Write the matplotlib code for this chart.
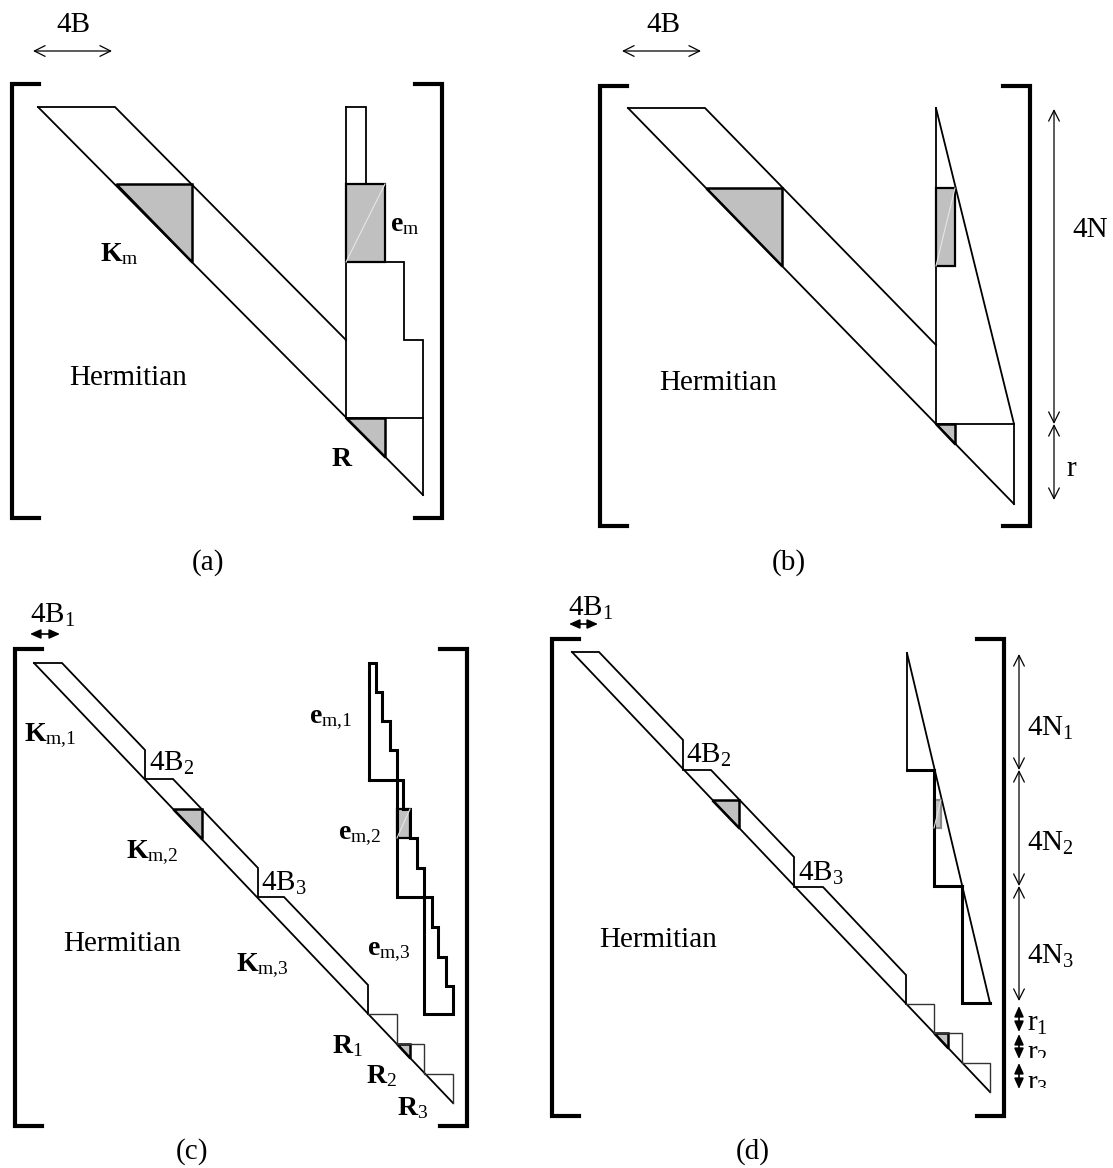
import matplotlib
matplotlib.use('Agg')
import matplotlib.pyplot as plt
from matplotlib.patches import Polygon, Rectangle

plt.rcParams['font.family'] = ['Liberation Serif', 'DejaVu Serif']
plt.rcParams['mathtext.fontset'] = 'custom'
plt.rcParams['mathtext.rm'] = 'Liberation Serif'
plt.rcParams['mathtext.bf'] = 'Liberation Serif:bold'
plt.rcParams['mathtext.it'] = 'Liberation Serif:italic'

W, H = 1113, 1168
GRAY = '#c0c0c0'

# ---------------- geometry of the schematic (pixel space) ----------------
# brackets: (left x, right x, top y, bottom y)
brackets = [(12, 442, 84, 518), (600, 1030, 86, 526),
            (15, 467, 649, 1126), (552, 1004, 639, 1116)]
bracket_tick = 27

# thin outline polylines (band edges etc.)
band_lines = [
    # (a)
    [(38, 107), (423, 495)],
    [(38, 107), (115, 107), (346, 340)],
    [(346, 107), (366, 107), (366, 184)],
    [(346, 107), (346, 418)],
    [(346, 262), (404, 262), (404, 340), (423, 340), (423, 495)],
    [(346, 418), (423, 418)],
    # (b)
    [(628, 108), (1014, 504)],
    [(628, 108), (705, 108), (936, 345)],
    [(936, 108), (936, 424)],
    [(936, 108), (1014, 424), (1014, 504)],
    [(936, 424), (1014, 424)],
    # (c)
    [(34, 663), (453, 1103)],
    [(34, 663), (62, 663), (145, 750), (145, 779), (173, 779), (258, 868),
     (258, 897), (284, 897), (368, 985), (368, 1014)],
    # (d)
    [(572, 652), (990, 1092)],
    [(572, 652), (599, 652), (683, 740), (683, 770), (711, 770), (794, 857),
     (794, 887), (823, 887), (906, 975), (906, 1004)],
    [(907, 653), (907, 770)],
    [(907, 653), (990, 1003)],
]

# light staircase of the R blocks
r_steps = [
    [(368, 1014), (397, 1014), (397, 1044), (424, 1044), (424, 1074), (453, 1074), (453, 1103)],
    [(906, 1004), (934, 1004), (934, 1033), (962, 1033), (962, 1063), (990, 1063), (990, 1092)],
]

# thick outlines (vector blocks)
thick_lines = [
    # (c) e_m,1 / e_m,2 / e_m,3
    [(369, 780), (369, 663), (376, 663), (376, 692), (382, 692), (382, 721),
     (390, 721), (390, 750), (397, 750), (397, 780), (369, 780)],
    [(397, 780), (403, 780), (403, 809), (410, 809), (410, 838), (417, 838),
     (417, 868), (424, 868), (424, 897), (397, 897), (397, 780)],
    [(424, 897), (432, 897), (432, 927), (438, 927), (438, 957), (446, 957),
     (446, 986), (453, 986), (453, 1014), (424, 1014), (424, 897)],
    # (d) blocks
    [(907, 770), (934, 770)],
    [(934, 770), (934, 886), (962, 886)],
    [(962, 886), (962, 1003), (990, 1003)],
]

# gray shaded triangles (K_m and R parts)
gray_triangles = [
    [(116, 184), (192, 184), (192, 262)],
    [(346, 418), (385, 418), (385, 457)],
    [(706, 188), (782, 188), (782, 266)],
    [(936, 424), (955, 424), (955, 444)],
    [(173, 809), (202, 809), (202, 839)],
    [(397, 1044), (410, 1044), (410, 1058)],
    [(712, 800), (739, 800), (739, 828)],
    [(934, 1033), (948, 1033), (948, 1048)],
]
# gray rectangles (x0, y0, x1, y1, edgecolor)
gray_rects = [
    (346, 184, 385, 262, 'black'),
    (936, 188, 955, 266, 'black'),
    (397, 809, 410, 838, 'black'),
    (934, 800, 941, 828, '#8a8a8a'),
]

# dimension arrows
open_arrows = [((33, 51), (112, 51)), ((622, 51), (701, 51)),
               ((1054, 109), (1054, 424)), ((1054, 424), (1054, 500)),
               ((1019, 654), (1019, 770)), ((1019, 770), (1019, 886)),
               ((1019, 886), (1019, 1001))]
small_arrows = [((30, 634), (60, 634)), ((569, 624), (598, 624)),
                ((1019, 1006), (1019, 1032)), ((1019, 1034), (1019, 1059)),
                ((1019, 1063), (1019, 1089))]

# labels: (x, y, text, ha, fontsize)
labels = [
    (73, 25, '4B', 'center', 21),
    (663, 25, '4B', 'center', 21),
    (128, 378, 'Hermitian', 'center', 21),
    (718, 383, 'Hermitian', 'center', 21),
    (122, 944, 'Hermitian', 'center', 21),
    (658, 940, 'Hermitian', 'center', 21),
    (100, 254, r'$\mathbf{K}_{\mathrm{m}}$', 'left', 20),
    (390, 225, r'$\mathbf{e}_{\mathrm{m}}$', 'left', 20),
    (342, 460, r'$\mathbf{R}$', 'center', 20),
    (1072, 230, '4N', 'left', 21),
    (1066, 469, 'r', 'left', 21),
    (208, 563, '(a)', 'center', 21),
    (789, 563, '(b)', 'center', 21),
    (192, 1152, '(c)', 'center', 21),
    (753, 1152, '(d)', 'center', 21),
    (30, 615, r'4B$_{\mathrm{1}}$', 'left', 21),
    (568, 608, r'4B$_{\mathrm{1}}$', 'left', 21),
    (24, 736, r'$\mathbf{K}_{\mathrm{m{,}1}}$', 'left', 20),
    (149, 763, r'4B$_{\mathrm{2}}$', 'left', 21),
    (126, 853, r'$\mathbf{K}_{\mathrm{m{,}2}}$', 'left', 20),
    (261, 883, r'4B$_{\mathrm{3}}$', 'left', 21),
    (236, 966, r'$\mathbf{K}_{\mathrm{m{,}3}}$', 'left', 20),
    (309, 720, r'$\mathbf{e}_{\mathrm{m{,}1}}$', 'left', 20),
    (338, 835, r'$\mathbf{e}_{\mathrm{m{,}2}}$', 'left', 20),
    (367, 951, r'$\mathbf{e}_{\mathrm{m{,}3}}$', 'left', 20),
    (332, 1046, r'$\mathbf{R}_{\mathrm{1}}$', 'left', 20),
    (366, 1076, r'$\mathbf{R}_{\mathrm{2}}$', 'left', 20),
    (397, 1108, r'$\mathbf{R}_{\mathrm{3}}$', 'left', 20),
    (686, 755, r'4B$_{\mathrm{2}}$', 'left', 21),
    (798, 873, r'4B$_{\mathrm{3}}$', 'left', 21),
    (1027, 728, r'4N$_{\mathrm{1}}$', 'left', 21),
    (1027, 843, r'4N$_{\mathrm{2}}$', 'left', 21),
    (1027, 956, r'4N$_{\mathrm{3}}$', 'left', 21),
]
# clipped labels: (x, y, text, clip box x0, y0, x1, y1)
clipped_labels = [
    (1027, 1024, r'r$_{\mathrm{1}}$', 1020, 1005, 1046, 1036),
    (1027, 1054, r'r$_{\mathrm{2}}$', 1020, 1034, 1046, 1058),
    (1027, 1084, r'r$_{\mathrm{3}}$', 1020, 1062, 1046, 1088),
]

# ---------------- drawing ----------------
fig = plt.figure(figsize=(W / 100, H / 100), dpi=100)
ax = fig.add_axes([0, 0, 1, 1])
ax.set_xlim(0, W)
ax.set_ylim(H, 0)
ax.axis('off')


def polyline(pts, lw, color='black'):
    xs = [p[0] for p in pts]
    ys = [p[1] for p in pts]
    ax.plot(xs, ys, color=color, lw=lw, solid_joinstyle='miter',
            solid_capstyle='projecting')


for (xl, xr, yt, yb) in brackets:
    polyline([(xl + bracket_tick, yt), (xl, yt), (xl, yb), (xl + bracket_tick, yb)], 3.0)
    polyline([(xr - bracket_tick, yt), (xr, yt), (xr, yb), (xr - bracket_tick, yb)], 3.0)

for (x0, y0, x1, y1, ec) in gray_rects:
    ax.add_patch(Rectangle((x0, y0), x1 - x0, y1 - y0, facecolor=GRAY,
                           edgecolor=ec, lw=1.6, zorder=2))
    ax.plot([x0, x1], [y1, y0], color='#e6e6e6', lw=0.8, zorder=2.1)

for tri in gray_triangles:
    ax.add_patch(Polygon(tri, closed=True, facecolor=GRAY, edgecolor='black',
                         lw=1.8, zorder=2, joinstyle='miter'))

for pl in band_lines:
    polyline(pl, 1.3)
for pl in r_steps:
    polyline(pl, 1.0, '#333333')
for pl in thick_lines:
    polyline(pl, 2.2)

for p0, p1 in open_arrows:
    ax.annotate('', xy=p1, xytext=p0,
                arrowprops=dict(arrowstyle='<->,head_length=0.7,head_width=0.35',
                                color='black', lw=0.9, shrinkA=0, shrinkB=0,
                                mutation_scale=11))
for p0, p1 in small_arrows:
    ax.annotate('', xy=p1, xytext=p0,
                arrowprops=dict(arrowstyle='<|-|>,head_length=0.45,head_width=0.2',
                                color='black', lw=1.2, shrinkA=0, shrinkB=0,
                                mutation_scale=14))

for x, y, s, ha, fs in labels:
    ax.text(x, y, s, ha=ha, va='center', fontsize=fs, color='black')

for x, y, s, cx0, cy0, cx1, cy1 in clipped_labels:
    t = ax.text(x, y, s, ha='left', va='center', fontsize=21, color='black')
    clip = Rectangle((cx0, cy0), cx1 - cx0, cy1 - cy0, transform=ax.transData)
    t.set_clip_path(clip)
    t.set_clip_on(True)

fig.savefig('out.png', dpi=100)
